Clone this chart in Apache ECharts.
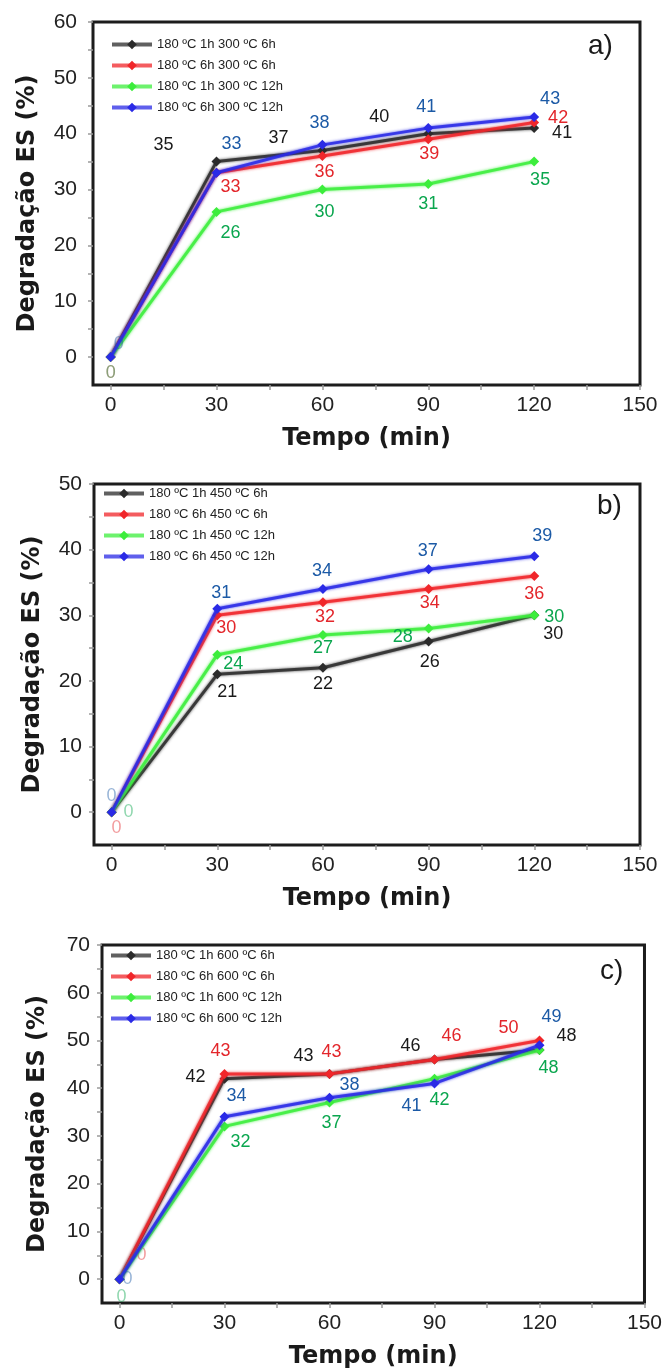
<!DOCTYPE html>
<html>
<head>
<meta charset="utf-8">
<script src="https://cdn.jsdelivr.net/npm/echarts@6/dist/echarts.min.js"></script>
<style>
  html, body { margin: 0; padding: 0; background: #fff; }
  #chart { width: 665px; height: 1370px; }
</style>
</head>
<body>
<div id="chart"></div>
<script>
// time axis (min)
const tempo = [0, 30, 60, 90, 120];
const xLabels = [0, 30, 60, 90, 120, 150];

// a) 300 ºC
const namesA = ['180 ºC 1h 300 ºC 6h', '180 ºC 6h 300 ºC 6h', '180 ºC 1h 300 ºC 12h', '180 ºC 6h 300 ºC 12h'];
const a1h6h = [0, 35, 37, 40, 41];
const a6h6h = [0, 33, 36, 39, 42];
const a1h12h = [0, 26, 30, 31, 35];
const a6h12h = [0, 33, 38, 41, 43];

// b) 450 ºC
const namesB = ['180 ºC 1h 450 ºC 6h', '180 ºC 6h 450 ºC 6h', '180 ºC 1h 450 ºC 12h', '180 ºC 6h 450 ºC 12h'];
const b1h6h = [0, 21, 22, 26, 30];
const b6h6h = [0, 30, 32, 34, 36];
const b1h12h = [0, 24, 27, 28, 30];
const b6h12h = [0, 31, 34, 37, 39];

// c) 600 ºC
const namesC = ['180 ºC 1h 600 ºC 6h', '180 ºC 6h 600 ºC 6h', '180 ºC 1h 600 ºC 12h', '180 ºC 6h 600 ºC 12h'];
const c1h6h = [0, 42, 43, 46, 48];
const c6h6h = [0, 43, 43, 46, 50];
const c1h12h = [0, 32, 37, 42, 48];
const c6h12h = [0, 34, 38, 41, 49];

const lineColors = ['#2b2b2b', '#f0262a', '#3ced3c', '#2a2ae6'];
const labelColors = ['#1a1a1a', '#e3262b', '#0aa64e', '#1c5aa6'];

// label offsets [dx, dy] around each point, third item = faded label
const offsA = [
  [null, [-53, -17], [-44, -12], [-49, -17], [28, 5]],
  [[0, 16, 1], [14, 14], [2, 16], [1, 15], [24, -4]],
  [[0, 16, 1], [14, 21], [2, 22], [0, 20], [6, 18]],
  [[8, -13, 1], [15, -29], [-3, -22], [-2, -21], [16, -18]]
];
const offsB = [
  [null, [10, 18], [0, 16], [1, 21], [19, 19]],
  [[5, 16, 1], [9, 13], [2, 15], [1, 14], [0, 18]],
  [[17, 0, 1], [16, 9], [0, 13], [-26, 9], [20, 2]],
  [[0, -16, 1], [4, -16], [-1, -18], [-1, -18], [8, -20]]
];
const offsC = [
  [null, [-29, -2], [-26, -18], [-24, -14], [27, -14]],
  [[22, -24, 1], [-4, -23], [2, -22], [17, -24], [-31, -12]],
  [[2, 18, 1], [16, 16], [2, 21], [5, 21], [9, 18]],
  [[8, 0, 1], [12, -21], [20, -13], [-23, 23], [12, -28]]
];

const panels = [
  { names: namesA, values: [a1h6h, a6h6h, a1h12h, a6h12h], offs: offsA, yMax: 60,
    grid: { left: 93, top: 22, width: 547, height: 363 }, yGap: 53, yMargin: 16, legendTop: 38, legendLeft: 110, tag: 'a)', tagPos: [588, 32] },
  { names: namesB, values: [b1h6h, b6h6h, b1h12h, b6h12h], offs: offsB, yMax: 50,
    grid: { left: 94, top: 484, width: 546, height: 361 }, yGap: 49, yMargin: 12, legendTop: 487, legendLeft: 102, tag: 'b)', tagPos: [597, 492] },
  { names: namesC, values: [c1h6h, c6h6h, c1h12h, c6h12h], offs: offsC, yMax: 70,
    grid: { left: 102, top: 945, width: 543, height: 361 }, yGap: 52, yMargin: 12, legendTop: 949, legendLeft: 109, tag: 'c)', tagPos: [600, 957] }
];

const font = "'Liberation Sans', Arial, sans-serif";
const nameFont = "'DejaVu Sans', sans-serif";

const grids = [], xAxes = [], yAxes = [], legends = [], series = [], graphics = [];

panels.forEach((p, pi) => {
  grids.push(Object.assign({ show: true, borderColor: '#1c1c1c', borderWidth: 3, backgroundColor: '#fff' }, p.grid));

  const yTicks = [];
  for (let v = 0; v <= p.yMax; v += 5) yTicks.push(v);
  const yLabels = yTicks.filter(v => v % 10 === 0);
  const xTicks = [];
  for (let v = 0; v <= 150; v += 15) xTicks.push(v);

  xAxes.push({
    gridIndex: pi, type: 'value', min: -5, max: 150,
    name: 'Tempo (min)', nameLocation: 'middle', nameGap: 42,
    nameTextStyle: { fontFamily: nameFont, fontWeight: 'bold', fontSize: 24, color: '#1a1a1a' },
    axisLine: { show: false, onZero: false },
    axisTick: { show: true, customValues: xTicks, length: 5, lineStyle: { color: '#9a9a9a', width: 1.5 } },
    axisLabel: { customValues: xLabels, fontFamily: font, fontSize: 21, color: '#222', margin: 10 },
    splitLine: { show: false }
  });
  yAxes.push({
    gridIndex: pi, type: 'value', min: -5, max: p.yMax,
    name: 'Degradação ES (%)', nameLocation: 'middle', nameGap: p.yGap,
    nameTextStyle: { fontFamily: nameFont, fontWeight: 'bold', fontSize: 24, color: '#1a1a1a' },
    axisLine: { show: false, onZero: false },
    axisTick: { show: true, customValues: yTicks, length: 5, lineStyle: { color: '#9a9a9a', width: 1.5 } },
    axisLabel: { customValues: yLabels, fontFamily: font, fontSize: 21, color: '#222', margin: p.yMargin },
    splitLine: { show: false }
  });

  legends.push({
    data: p.names, orient: 'vertical', left: p.legendLeft, top: p.legendTop,
    itemWidth: 40, itemHeight: 12, itemGap: 8, padding: 0,
    textStyle: { fontFamily: font, fontSize: 13, color: '#222' },
    lineStyle: { width: 4, opacity: 0.75 },
    selectedMode: false
  });

  p.values.forEach((vals, si) => {
    const data = vals.map((v, i) => {
      const o = p.offs[si][i];
      const item = { value: [tempo[i], v] };
      if (o) {
        item.label = {
          show: true, position: 'inside', offset: [o[0], o[1]],
          color: labelColors[si], opacity: o[2] ? 0.45 : 1
        };
      }
      return item;
    });
    series.push({
      type: 'line', name: p.names[si], xAxisIndex: pi, yAxisIndex: pi,
      data: data, symbol: 'diamond', symbolSize: 10,
      itemStyle: { color: lineColors[si] },
      lineStyle: { width: 3, color: lineColors[si], opacity: 0.85, shadowColor: lineColors[si], shadowBlur: 3 },
      label: { show: false, fontFamily: font, fontSize: 18, align: 'center', verticalAlign: 'middle' },
      z: 3 + si,
      animation: false
    });
  });

  graphics.push({
    type: 'text', left: p.tagPos[0], top: p.tagPos[1],
    style: { text: p.tag, fontFamily: font, fontSize: 28, fill: '#1a1a1a' }
  });
});

const chart = echarts.init(document.getElementById('chart'));
chart.setOption({
  backgroundColor: '#fff',
  animation: false,
  grid: grids,
  xAxis: xAxes,
  yAxis: yAxes,
  legend: legends,
  series: series,
  graphic: graphics
});
</script>
</body>
</html>
